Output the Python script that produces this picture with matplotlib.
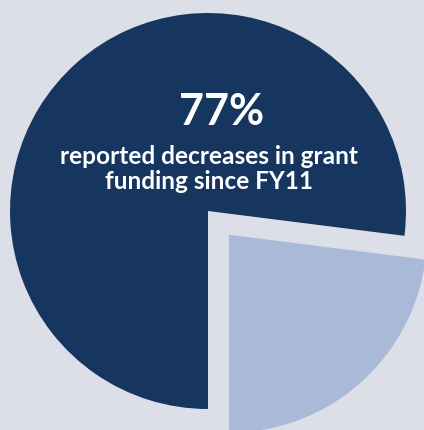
import matplotlib
matplotlib.use("Agg")
import matplotlib.pyplot as plt

categories = ["Reported decreases", "Other"]
values = [77, 23]
colors = ["#16365f", "#a9bad9"]
headline = "77%"
caption = "reported decreases in grant\nfunding since FY11"

bg = "#dcdee8"
fig = plt.figure(figsize=(4.24, 4.30), dpi=100, facecolor=bg)
ax = fig.add_axes([0, 0, 1, 1])
ax.set_facecolor(bg)

ax.pie(values, colors=colors, startangle=270, counterclock=False,
       explode=[0, 0.16], radius=1.0, wedgeprops=dict(linewidth=0))

s = 198.0
cx, cy = 208.0, 211.0
ax.set_xlim(-cx / s, (424 - cx) / s)
ax.set_ylim(-(430 - cy) / s, cy / s)
ax.set_aspect("auto")
ax.axis("off")

ax.text(0.066, 0.50, headline, ha="center", va="center", color="white",
        fontsize=31, fontweight="bold", family="Lato")
ax.text(0.003, 0.21, caption, ha="center", va="center", color="white",
        fontsize=17.6, fontweight="bold", family="Lato", linespacing=1.1)

fig.savefig("out.png", dpi=100, facecolor=bg)
